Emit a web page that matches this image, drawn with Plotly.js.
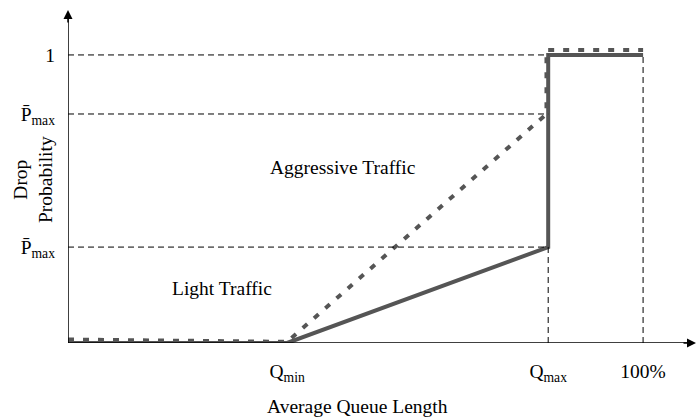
<!DOCTYPE html>
<html>
<head>
<meta charset="utf-8">
<script src="https://cdn.plot.ly/plotly-3.0.1.min.js"></script>
<style>
  html, body { margin: 0; padding: 0; background: #fff; }
  #chart { width: 696px; height: 419px; }
</style>
</head>
<body>
<div id="chart"></div>
<script>
// queue positions (fraction of buffer) and drop probabilities
const qMin = 0.381;
const qMax = 0.835;
const pMaxLight = 0.333;
const pMaxAggr = 0.795;

const xTickVals = [qMin, qMax, 1];
const xTickText = ["Q<sub>min</sub>", "Q<sub>max</sub>", "100%"];
const yTickVals = [pMaxLight, pMaxAggr, 1];
const yTickText = ["P\u0304<sub>max</sub>", "P\u0304<sub>max</sub>", "1"];

const lightX = [0, qMin, qMax, qMax, 1];
const lightY = [0, 0, pMaxLight, 1, 1];
const aggrX = [0, qMin, 0.832, 0.832, 1];
const aggrY = [0.012, 0.004, pMaxAggr, 1.017, 1.017];

const FONT = "Liberation Serif, Times New Roman, serif";
const GREY = "#555555";
const TXT = { family: FONT, size: 19.5, color: "#000" };

const traces = [
  {
    x: lightX, y: lightY, type: "scatter", mode: "lines",
    line: { color: GREY, width: 4 }, cliponaxis: false, hoverinfo: "skip",
  },
  {
    x: aggrX, y: aggrY, type: "scatter", mode: "lines",
    line: { color: GREY, width: 4, dash: "6px,9px" }, cliponaxis: false, hoverinfo: "skip",
  },
];

// thin dashed guide lines
const guide = { color: "#000", width: 1, dash: "6px,4px" };
const shapes = [
  { type: "line", xref: "x", yref: "y", x0: 0, x1: qMax, y0: 1, y1: 1, line: guide },
  { type: "line", xref: "x", yref: "y", x0: 0, x1: qMax, y0: pMaxAggr, y1: pMaxAggr, line: guide },
  { type: "line", xref: "x", yref: "y", x0: 0, x1: qMax, y0: pMaxLight, y1: pMaxLight, line: guide },
  { type: "line", xref: "x", yref: "y", x0: qMax, x1: qMax, y0: 0, y1: pMaxLight, line: guide },
  { type: "line", xref: "x", yref: "y", x0: 1, x1: 1, y0: 0, y1: 1, line: guide },
  // axes
  { type: "line", xref: "x", yref: "y", x0: 0, x1: 1.08, y0: 0, y1: 0, line: { color: "#000", width: 1.5 } },
  { type: "line", xref: "x", yref: "y", x0: 0, x1: 0, y0: 0, y1: 1.13, line: { color: "#000", width: 1.5 } },
];

const annotations = [
  { x: 1.092, y: 0, xref: "x", yref: "y", ax: -14, ay: 0, text: "", showarrow: true,
    arrowhead: 2, arrowsize: 1.2, arrowwidth: 1.5, arrowcolor: "#000" },
  { x: 0, y: 1.156, xref: "x", yref: "y", ax: 0, ay: 14, text: "", showarrow: true,
    arrowhead: 2, arrowsize: 1.2, arrowwidth: 1.5, arrowcolor: "#000" },
  { x: 0.479, y: 0.61, xref: "x", yref: "y", text: "Aggressive Traffic", showarrow: false, font: TXT },
  { x: 0.268, y: 0.19, xref: "x", yref: "y", text: "Light Traffic", showarrow: false, font: TXT },
  { x: (33 - 68) / 628, y: (343 - 180) / 333, xref: "paper", yref: "paper",
    xanchor: "center", yanchor: "middle", text: "Drop<br>Probability", showarrow: false,
    textangle: -90, font: TXT },
  { x: (357 - 68) / 628, y: (343 - 406) / 333, xref: "paper", yref: "paper",
    xanchor: "center", yanchor: "middle", text: "Average Queue Length", showarrow: false, font: TXT },
];

const layout = {
  width: 696, height: 419,
  margin: { l: 68, r: 0, t: 10, b: 76 },
  paper_bgcolor: "#fff", plot_bgcolor: "#fff",
  showlegend: false,
  xaxis: {
    range: [0, 1.092], showgrid: false, zeroline: false, showline: false,
    tickmode: "array", tickvals: xTickVals, ticktext: xTickText, ticks: "",
    ticklabelstandoff: 14, tickfont: TXT,
  },
  yaxis: {
    range: [0, 1.156], showgrid: false, zeroline: false, showline: false,
    tickmode: "array", tickvals: yTickVals, ticktext: yTickText, ticks: "",
    ticklabelstandoff: 12, tickfont: TXT,
  },
  shapes: shapes,
  annotations: annotations,
};

Plotly.newPlot("chart", traces, layout, { staticPlot: true });
</script>
</body>
</html>
